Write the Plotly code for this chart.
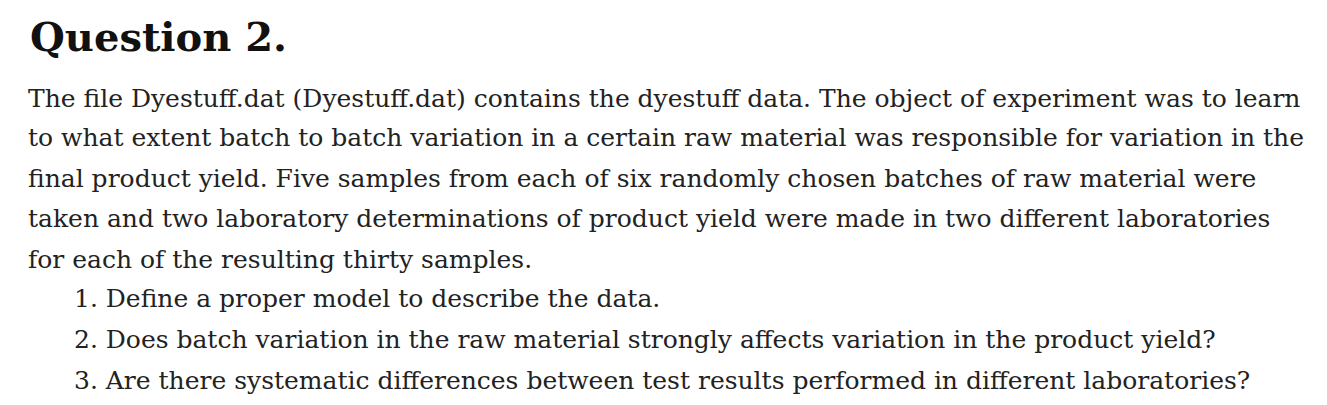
import plotly.graph_objects as go

title = "Question 2."
paragraph = [
    "The file Dyestuff.dat (Dyestuff.dat) contains the dyestuff data. The object of experiment was to learn",
    "to what extent batch to batch variation in a certain raw material was responsible for variation in the",
    "final product yield. Five samples from each of six randomly chosen batches of raw material were",
    "taken and two laboratory determinations of product yield were made in two different laboratories",
    "for each of the resulting thirty samples.",
]
items = [
    "1. Define a proper model to describe the data.",
    "2. Does batch variation in the raw material strongly affects variation in the product yield?",
    "3. Are there systematic differences between test results performed in different laboratories?",
]

W, H = 1327, 405
fig = go.Figure()
fig.add_annotation(x=20 / W, y=1 - 28 / H, text="<b>" + title + "</b>", showarrow=False,
                   xanchor="left", yanchor="middle",
                   font=dict(family="DejaVu Serif", size=40, color="#111"))
line_y = [90, 129, 170, 210, 251]
for t, yy in zip(paragraph, line_y):
    fig.add_annotation(x=18 / W, y=1 - yy / H, text=t, showarrow=False,
                       xanchor="left", yanchor="middle",
                       font=dict(family="DejaVu Serif", size=25, color="#222"))
for t, yy in zip(items, [290, 331, 372]):
    fig.add_annotation(x=64 / W, y=1 - yy / H, text=t, showarrow=False,
                       xanchor="left", yanchor="middle",
                       font=dict(family="DejaVu Serif", size=25, color="#222"))

fig.update_xaxes(visible=False, range=[0, 1])
fig.update_yaxes(visible=False, range=[0, 1])
fig.update_layout(width=W, height=H, margin=dict(l=0, r=0, t=0, b=0),
                  plot_bgcolor="white", paper_bgcolor="white")
fig.write_html("out.html")
